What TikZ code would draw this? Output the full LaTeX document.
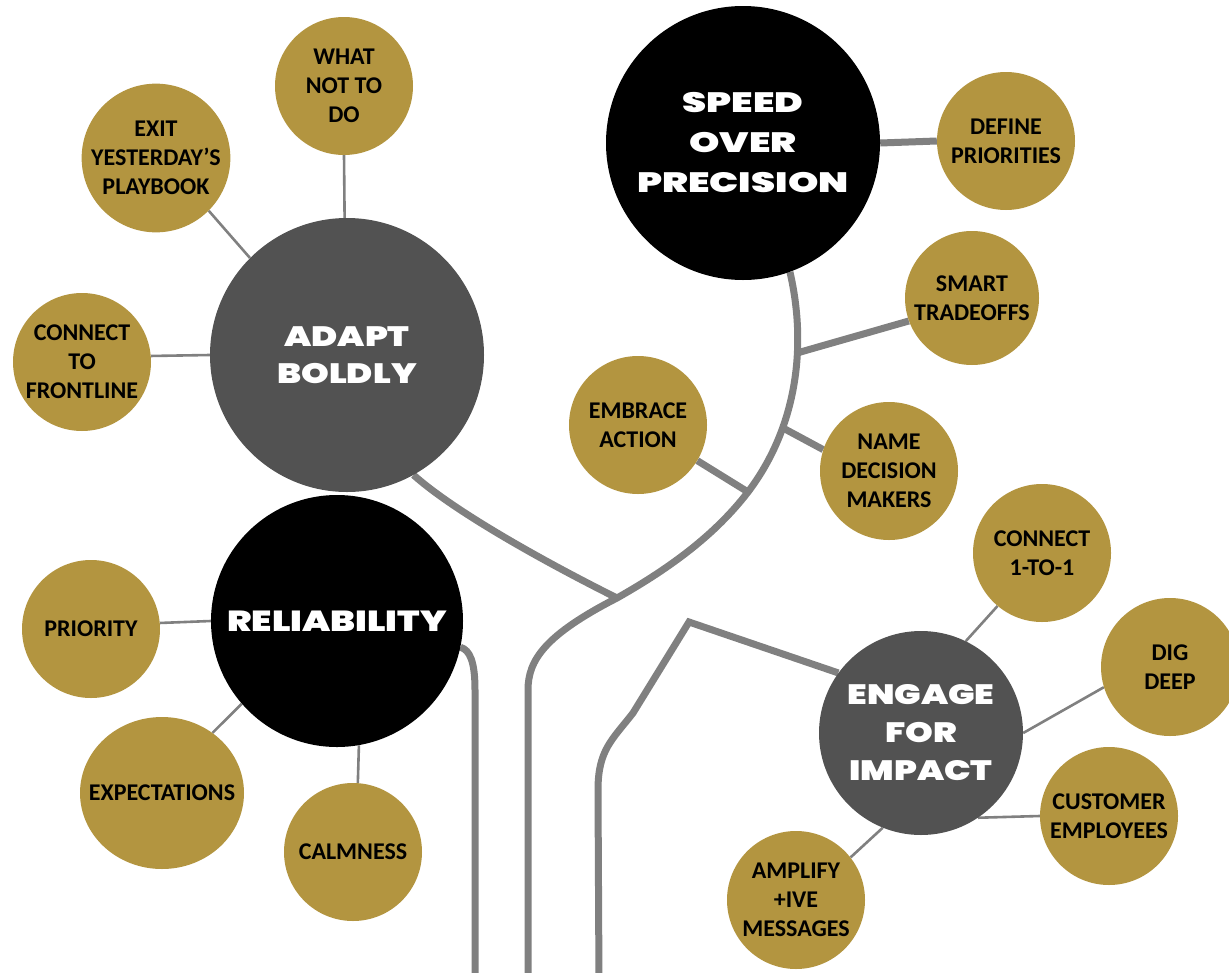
\documentclass[tikz,border=0pt]{standalone}
\usepackage{fontspec}
\setmainfont{Carlito}
\newfontfamily\titlefont{Poppins}[BoldFont={Poppins Black},FakeStretch=1.26]
\newfontfamily\titlewide{Poppins}[BoldFont={Poppins Black},FakeStretch=1.38]
\usetikzlibrary{shapes.geometric,backgrounds}
\definecolor{gold}{RGB}{179,149,64}
\definecolor{darkg}{RGB}{82,82,82}
\definecolor{lineg}{RGB}{128,128,128}
\begin{document}
\begin{tikzpicture}[x=1pt,y=-1pt,
  goldc/.style={circle, fill=gold, minimum size=138pt, inner sep=0pt, align=center,
    font=\bfseries\fontsize{24}{29}\selectfont},
  mainc/.style={circle, inner sep=0pt, align=center, text=white},
  conn/.style={draw=lineg, line width=2.6pt},
  branch/.style={draw=lineg, line width=7pt}]
\useasboundingbox (0,0) rectangle (1229,972);
% main circles
\node[mainc, fill=darkg, minimum size=274pt, font=\titlefont\bfseries\fontsize{28}{37}\selectfont] (adapt) at (347,355) {ADAPT\\BOLDLY};
\node[mainc, fill=black, minimum size=274pt, font=\titlewide\bfseries\fontsize{28}{40}\selectfont] (speed) at (743,143) {SPEED\\OVER\\PRECISION};
\node[mainc, fill=black, minimum size=252pt, font=\titlefont\bfseries\fontsize{29}{36}\selectfont] (reli) at (337,621) {RELIABILITY};
\node[mainc, fill=darkg, minimum size=204pt, font=\titlefont\bfseries\fontsize{28}{38}\selectfont] (engage) at (921,733) {ENGAGE\\FOR\\IMPACT};
% gold circles
\node[goldc] (what) at (344,86) {WHAT\\NOT TO\\DO};
\node[goldc] (exit) at (156,158) {EXIT\\YESTERDAY’S\\PLAYBOOK};
\node[goldc] (front) at (82,362) {CONNECT\\TO\\FRONTLINE};
\node[goldc] (prio) at (91,629) {PRIORITY};
\node[goldc, ellipse, minimum width=164pt, minimum height=152pt, inner xsep=-40pt, inner ysep=-10pt] (exp) at (162,793) {EXPECTATIONS};
\node[goldc] (calm) at (353,852) {CALMNESS};
\node[goldc] (embrace) at (638,425) {EMBRACE\\ACTION};
\node[goldc] (define) at (1006,141) {DEFINE\\PRIORITIES};
\node[goldc, minimum size=134pt] (smart) at (972,298) {SMART\\TRADEOFFS};
\node[goldc] (name) at (889,471) {NAME\\DECISION\\MAKERS};
\node[goldc] (c11) at (1042,553) {CONNECT\\1-TO-1};
\node[goldc] (dig) at (1170,667) {DIG\\DEEP};
\node[goldc] (cust) at (1109,816) {CUSTOMER\\EMPLOYEES};
\node[goldc] (amp) at (796,900) {AMPLIFY\\+IVE\\MESSAGES};
% coordinates on the trunk
\coordinate (J) at (617,598);
\coordinate (ts) at (797,353);
\coordinate (tn) at (783,428);
\coordinate (te) at (748,492);
\coordinate (tb) at (528,985);
\coordinate (rb) at (475,985);
\coordinate (eb) at (599,985);
\begin{scope}[on background layer]
  % thick branches
  \draw[branch] (speed.290) .. controls (808,350) and (795,430) .. (te)
     .. controls (715,535) and (670,568) .. (J)
     .. controls (545,635) and (528,660) .. (528,690) -- (tb);
  \draw[branch] (adapt.299) .. controls (455,512) and (545,562) .. (J);
  \draw[branch] (reli.348) .. controls (470,650) and (475,662) .. (475,690) -- (rb);
  \draw[branch] (engage.144) -- (689,622) -- (633,713)
     .. controls (612,740) and (598,750) .. (598,790) -- (eb);
  \draw[branch] (speed.east) -- (define.west);
  \draw[branch] (ts) -- (smart.200);
  \draw[branch] (tn) -- (name.162);
  \draw[branch] (embrace.329) -- (te);
  % thin connectors
  \draw[conn] (what.south) -- (adapt.91);
  \draw[conn] (exit.315) -- (adapt.135);
  \draw[conn] (front.5) -- (adapt.west);
  \draw[conn] (prio.5) -- (reli.west);
  \draw[conn] (exp.50) -- (reli.221);
  \draw[conn] (calm.86) -- (reli.280);
  \draw[conn] (c11.230) -- (engage.64);
  \draw[conn] (dig.197) -- (engage.east);
  \draw[conn] (cust.west) -- (engage.304);
  \draw[conn] (amp.38) -- (engage.248);
\end{scope}
\end{tikzpicture}
\end{document}
